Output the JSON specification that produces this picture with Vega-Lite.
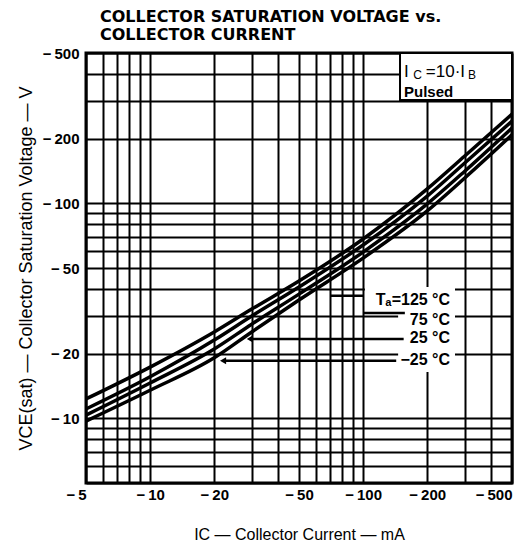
{
  "$schema": "https://vega.github.io/schema/vega-lite/v6.json",
  "width": 426,
  "height": 430,
  "autosize": "none",
  "padding": {"left": 86, "top": 53, "right": 13, "bottom": 68},
  "background": "white",
  "title": {
    "text": ["COLLECTOR SATURATION VOLTAGE vs.", "COLLECTOR CURRENT"],
    "anchor": "start",
    "frame": "group",
    "dx": 14,
    "font": "DejaVu Sans",
    "fontWeight": "bold",
    "fontSize": 16,
    "lineHeight": 18,
    "offset": 3,
    "color": "black"
  },
  "config": {
    "view": {"stroke": "black", "strokeWidth": 3},
    "axis": {
      "grid": true,
      "gridColor": "black",
      "gridWidth": 2,
      "gridOpacity": 1,
      "ticks": false,
      "domain": false,
      "labelFont": "Liberation Sans",
      "labelFontSize": 15,
      "labelFontWeight": "bold",
      "labelColor": "black",
      "titleFont": "Liberation Sans",
      "titleFontSize": 16,
      "titleFontWeight": "normal",
      "titleColor": "black"
    }
  },
  "datasets": {
    "curves": [
      {"I": -5, "V": -12.3, "Ta": "125 °C"},
      {"I": -10, "V": -17.3, "Ta": "125 °C"},
      {"I": -20, "V": -25.2, "Ta": "125 °C"},
      {"I": -30, "V": -32.2, "Ta": "125 °C"},
      {"I": -50, "V": -43.5, "Ta": "125 °C"},
      {"I": -100, "V": -68.2, "Ta": "125 °C"},
      {"I": -200, "V": -116.6, "Ta": "125 °C"},
      {"I": -300, "V": -166, "Ta": "125 °C"},
      {"I": -500, "V": -260, "Ta": "125 °C"},
      {"I": -5, "V": -11.05, "Ta": "75 °C"},
      {"I": -10, "V": -15.6, "Ta": "75 °C"},
      {"I": -20, "V": -23.1, "Ta": "75 °C"},
      {"I": -30, "V": -29.9, "Ta": "75 °C"},
      {"I": -50, "V": -40.8, "Ta": "75 °C"},
      {"I": -100, "V": -64.0, "Ta": "75 °C"},
      {"I": -200, "V": -108, "Ta": "75 °C"},
      {"I": -300, "V": -154, "Ta": "75 °C"},
      {"I": -500, "V": -241, "Ta": "75 °C"},
      {"I": -5, "V": -10.35, "Ta": "25 °C"},
      {"I": -10, "V": -14.6, "Ta": "25 °C"},
      {"I": -20, "V": -21.0, "Ta": "25 °C"},
      {"I": -30, "V": -27.4, "Ta": "25 °C"},
      {"I": -50, "V": -37.8, "Ta": "25 °C"},
      {"I": -100, "V": -59.3, "Ta": "25 °C"},
      {"I": -200, "V": -99.3, "Ta": "25 °C"},
      {"I": -300, "V": -141, "Ta": "25 °C"},
      {"I": -500, "V": -224, "Ta": "25 °C"},
      {"I": -5, "V": -9.7, "Ta": "-25 °C"},
      {"I": -10, "V": -13.5, "Ta": "-25 °C"},
      {"I": -20, "V": -19.1, "Ta": "-25 °C"},
      {"I": -30, "V": -25.2, "Ta": "-25 °C"},
      {"I": -50, "V": -35.5, "Ta": "-25 °C"},
      {"I": -100, "V": -55.6, "Ta": "-25 °C"},
      {"I": -200, "V": -92.1, "Ta": "-25 °C"},
      {"I": -300, "V": -131, "Ta": "-25 °C"},
      {"I": -500, "V": -208, "Ta": "-25 °C"}
    ],
    "labelBg": [
      {"I": -146, "I2": -270, "V": -40.8, "V2": -16.4},
      {"I": -102, "I2": -270, "V": -40.5, "V2": -33.3}
    ],
    "leaders": [
      {"I": -70, "I2": -100, "V": -37.1},
      {"I": -100, "I2": -157, "V": -30.9},
      {"I": -29.4, "I2": -155, "V": -23.4},
      {"I": -22, "I2": -143, "V": -18.5}
    ],
    "arrows": [
      {"I": -29.4, "V": -23.4},
      {"I": -22, "V": -18.5}
    ],
    "tempLabels": [
      {"I": -256, "V": -35.5, "label": "Tₐ=125 °C"},
      {"I": -256, "V": -28.6, "label": "75 °C"},
      {"I": -256, "V": -23.6, "label": "25 °C"},
      {"I": -256, "V": -18.7, "label": "−25 °C"}
    ],
    "box": [
      {"I": -149, "I2": -500, "V": -302, "V2": -500}
    ],
    "boxMain": [
      {"I": -155.6, "V": -387, "t": "I"},
      {"I": -197, "V": -387, "t": "=10·I"}
    ],
    "boxSub": [
      {"I": -172, "V": -376.5, "t": "C"},
      {"I": -311, "V": -376.5, "t": "B"}
    ],
    "boxPulsed": [
      {"I": -155.6, "V": -312, "t": "Pulsed"}
    ]
  },
  "encoding": {
    "x": {
      "field": "I",
      "type": "quantitative",
      "scale": {"type": "log", "domain": [-5, -500]},
      "axis": {
        "values": [-5, -6, -7, -8, -9, -10, -20, -30, -40, -50, -60, -70, -80, -90, -100, -200, -300, -400, -500],
        "labelExpr": "indexof([-5, -10, -20, -50, -100, -200, -500], datum.value) >= 0 ? '−\u2009' + abs(datum.value) : ''",
        "labelFlush": false,
        "labelAlign": {"condition": {"test": "datum.value == -5 || datum.value == -500", "value": "right"}, "value": "center"},
        "labelPadding": 4,
        "title": "IC — Collector Current — mA",
        "titlePadding": 24
      }
    },
    "y": {
      "field": "V",
      "type": "quantitative",
      "scale": {"type": "log", "domain": [-5, -500]},
      "axis": {
        "values": [-5, -6, -7, -8, -9, -10, -20, -30, -40, -50, -60, -70, -80, -90, -100, -200, -300, -400, -500],
        "labelExpr": "indexof([-10, -20, -50, -100, -200, -500], datum.value) >= 0 ? '−\u2009' + abs(datum.value) : ''",
        "labelPadding": 7,
        "title": "VCE(sat) — Collector Saturation Voltage — V",
        "titleFontSize": 18,
        "titlePadding": 7
      }
    }
  },
  "layer": [
    {
      "data": {"name": "labelBg"},
      "mark": {"type": "rect", "fill": "white", "stroke": null},
      "encoding": {"x2": {"field": "I2"}, "y2": {"field": "V2"}}
    },
    {
      "data": {"name": "curves"},
      "mark": {"type": "line", "color": "black", "strokeWidth": 3.5, "interpolate": "monotone"},
      "encoding": {"detail": {"field": "Ta", "type": "nominal"}}
    },
    {
      "data": {"name": "leaders"},
      "mark": {"type": "rule", "color": "black", "strokeWidth": 2.5},
      "encoding": {"x2": {"field": "I2"}}
    },
    {
      "data": {"name": "arrows"},
      "mark": {"type": "point", "shape": "triangle-left", "filled": true, "color": "black", "size": 50, "opacity": 1},
      "encoding": {}
    },
    {
      "data": {"name": "tempLabels"},
      "mark": {"type": "text", "align": "right", "baseline": "middle", "font": "Liberation Sans", "fontSize": 16, "fontWeight": "bold", "color": "black"},
      "encoding": {"text": {"field": "label"}}
    },
    {
      "data": {"name": "box"},
      "mark": {"type": "rect", "fill": "white", "stroke": "black", "strokeWidth": 2},
      "encoding": {"x2": {"field": "I2"}, "y2": {"field": "V2"}}
    },
    {
      "data": {"name": "boxMain"},
      "mark": {"type": "text", "align": "left", "baseline": "alphabetic", "font": "Liberation Sans", "fontSize": 17, "color": "black"},
      "encoding": {"text": {"field": "t"}}
    },
    {
      "data": {"name": "boxSub"},
      "mark": {"type": "text", "align": "left", "baseline": "alphabetic", "font": "Liberation Sans", "fontSize": 12, "color": "black"},
      "encoding": {"text": {"field": "t"}}
    },
    {
      "data": {"name": "boxPulsed"},
      "mark": {"type": "text", "align": "left", "baseline": "alphabetic", "font": "Liberation Sans", "fontSize": 15, "fontWeight": "bold", "color": "black"},
      "encoding": {"text": {"field": "t"}}
    }
  ]
}
